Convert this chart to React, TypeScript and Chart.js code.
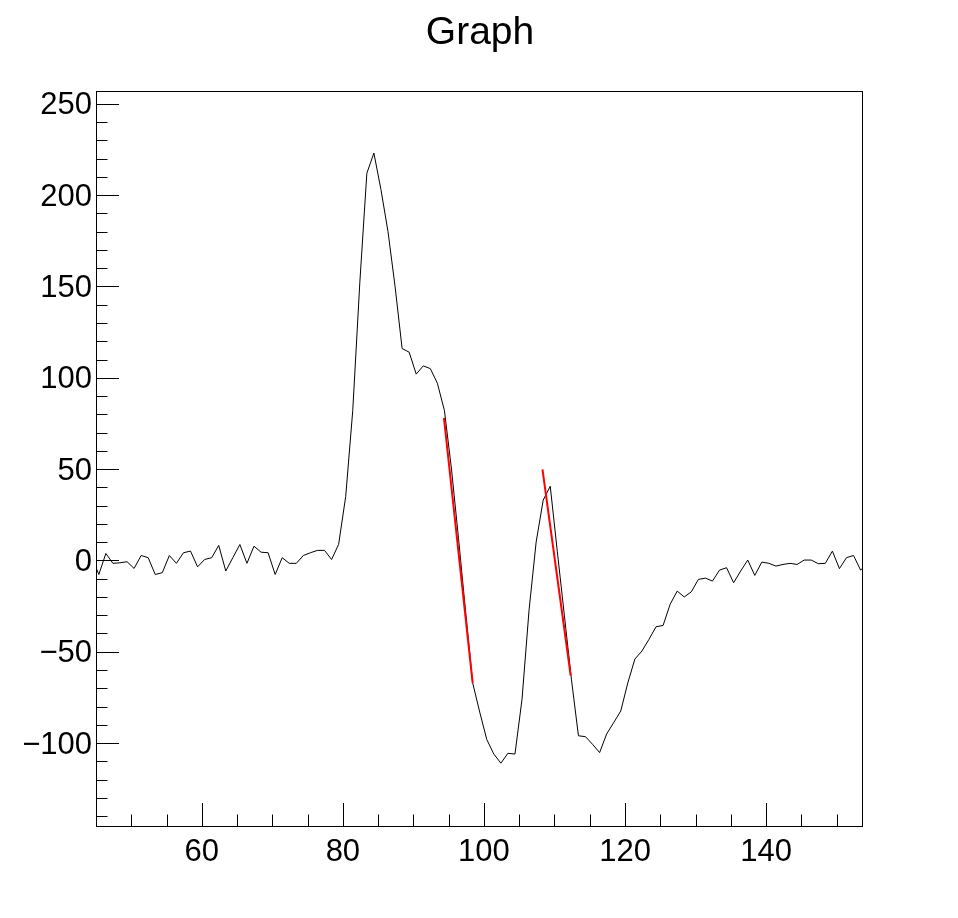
import React, { useEffect, useRef } from "react";
import { Chart, registerables } from "chart.js";

Chart.register(...registerables);

const xValues = [
  44.4, 45.4, 46.4, 47.4, 48.4, 49.4, 50.4, 51.4, 52.4, 53.4, 54.4, 55.4, 56.4, 57.4, 58.4, 59.4,
  60.4, 61.4, 62.4, 63.4, 64.4, 65.4, 66.4, 67.4, 68.4, 69.4, 70.4, 71.4, 72.4, 73.4, 74.4, 75.4,
  76.4, 77.4, 78.4, 79.4, 80.4, 81.4, 82.4, 83.4, 84.4, 85.4, 86.4, 87.4, 88.4, 89.4, 90.4, 91.4,
  92.4, 93.4, 94.4, 95.4, 96.4, 97.4, 98.4, 99.4, 100.4, 101.4, 102.4, 103.4, 104.4, 105.4, 106.4,
  107.4, 108.4, 109.4, 110.4, 111.4, 112.4, 113.4, 114.4, 115.4, 116.4, 117.4, 118.4, 119.4, 120.4,
  121.4, 122.4, 123.4, 124.4, 125.4, 126.4, 127.4, 128.4, 129.4, 130.4, 131.4, 132.4, 133.4, 134.4,
  135.4, 136.4, 137.4, 138.4, 139.4, 140.4, 141.4, 142.4, 143.4, 144.4, 145.4, 146.4, 147.4, 148.4,
  149.4, 150.4, 151.4, 152.4, 153.4, 154.4,
];

const yValues = [
  2, -7.7, 3.8, -1.6, -1.3, -0.7, -4.4, 2.7, 1.5, -7.7, -6.7, 2.7, -1.6, 4.2, 5.1, -3.5,
  0.5, 1.5, 8.2, -5.8, 1.5, 8.7, -1.6, 7.8, 4.5, 4.2, -7.7, 1.5, -1.6, -1.6, 2.7, 4.2,
  5.5, 5.5, 0.5, 8.8, 35, 82, 152, 212, 223, 203, 180, 150, 116, 114, 102, 106.5,
  105, 97, 82, 50, 12, -28, -67, -83, -98, -106, -111, -105.6, -106, -76, -27,
  10, 33, 40.6, 5, -30, -65, -96, -96.5, -100.7, -105.2, -95, -88.8, -82.4, -67,
  -54, -49.6, -43.2, -36.3, -35.6, -24, -16.8, -20, -17.2, -10.4, -9.7, -11.3, -5.3, -4,
  -12.2, -5.8, 0.2, -8.2, -0.9, -1.6, -3.1, -2.2, -1.6, -2.2, 0.2, 0.2, -1.8, -1.6,
  5.1, -4.5, 1.5, 2.7, -5.3, -2,
];

const fit1X = [94.33, 98.4];
const fit1Y = [78, -67];
const fit2X = [108.3, 112.3];
const fit2Y = [49.8, -63];

const titleText = "Graph";
const xMin = 45;
const xMax = 153.6;
const yMin = -145.4;
const yMax = 257;
const xMajorTicks = [60, 80, 100, 120, 140];
const xMinorStep = 5;
const yMajorTicks = [-100, -50, 0, 50, 100, 150, 200, 250];
const yMinorStep = 10;

const FONT = "'Liberation Sans', Arial, Helvetica, sans-serif";

const framePlugin = {
  id: "rootFrame",
  afterDraw(chart: any) {
    const { ctx, chartArea, scales } = chart;
    const { left, right, top, bottom } = chartArea;
    const xs = scales.x;
    const ys = scales.y;
    ctx.save();
    ctx.strokeStyle = "#000";
    ctx.lineWidth = 1;
    ctx.beginPath();
    const xStart = Math.ceil(xMin / xMinorStep) * xMinorStep;
    for (let v = xStart; v <= xMax; v += xMinorStep) {
      const px = Math.round(xs.getPixelForValue(v)) + 0.5;
      const len = v % 20 === 0 ? 23 : 11.5;
      ctx.moveTo(px, bottom);
      ctx.lineTo(px, bottom - len);
    }
    const yStart = Math.ceil(yMin / yMinorStep) * yMinorStep;
    for (let v = yStart; v <= yMax; v += yMinorStep) {
      const py = Math.round(ys.getPixelForValue(v)) + 0.5;
      const len = v % 50 === 0 ? 23 : 11.5;
      ctx.moveTo(left, py);
      ctx.lineTo(left + len, py);
    }
    ctx.stroke();
    ctx.strokeRect(Math.round(left) + 0.5, Math.round(top) + 0.5, Math.round(right - left), Math.round(bottom - top));
    ctx.fillStyle = "#000";
    ctx.font = "39px " + FONT;
    ctx.textAlign = "center";
    ctx.textBaseline = "alphabetic";
    ctx.fillText(titleText, chart.width / 2 + 1, 44);
    ctx.restore();
  },
};

export default function App() {
  const ref = useRef<HTMLCanvasElement | null>(null);

  useEffect(() => {
    if (!ref.current) return;
    const mainData = xValues.map((x, i) => ({ x, y: yValues[i] }));
    const f1 = fit1X.map((x, i) => ({ x, y: fit1Y[i] }));
    const f2 = fit2X.map((x, i) => ({ x, y: fit2Y[i] }));
    const chart = new Chart(ref.current, {
      type: "line",
      data: {
        datasets: [
          { data: f1, borderColor: "#ff0000", borderWidth: 2, pointRadius: 0, tension: 0, fill: false },
          { data: f2, borderColor: "#ff0000", borderWidth: 2, pointRadius: 0, tension: 0, fill: false },
          { data: mainData, borderColor: "#000000", borderWidth: 1, pointRadius: 0, tension: 0, fill: false },
        ],
      },
      options: {
        responsive: false,
        animation: false,
        events: [],
        layout: { padding: { left: 0, right: 96, top: 91, bottom: 0 } },
        plugins: {
          legend: { display: false },
          tooltip: { enabled: false },
          title: { display: false },
        },
        scales: {
          x: {
            type: "linear",
            min: xMin,
            max: xMax,
            grid: { display: false, drawTicks: false },
            border: { display: false },
            afterBuildTicks: (s: any) => {
              s.ticks = xMajorTicks.map((v) => ({ value: v }));
            },
            afterFit: (s: any) => {
              s.height = 92;
            },
            ticks: {
              color: "#000",
              padding: 8,
              maxRotation: 0,
              autoSkip: false,
              font: { family: FONT, size: 31 },
              callback: (v: any) => String(v),
            },
          },
          y: {
            type: "linear",
            min: yMin,
            max: yMax,
            grid: { display: false, drawTicks: false },
            border: { display: false },
            afterBuildTicks: (s: any) => {
              s.ticks = yMajorTicks.map((v) => ({ value: v }));
            },
            afterFit: (s: any) => {
              s.width = 96;
            },
            ticks: {
              color: "#000",
              padding: 4,
              labelOffset: 2,
              autoSkip: false,
              font: { family: FONT, size: 31 },
              callback: (v: any) => (v < 0 ? "\u2212" + String(-v) : String(v)),
            },
          },
        },
      },
      plugins: [framePlugin],
    });
    return () => chart.destroy();
  }, []);

  return (
    <div style={{ position: "fixed", left: 0, top: 0, width: 958, height: 918, background: "#fff" }}>
      <canvas ref={ref} width={958} height={918} style={{ display: "block", width: 958, height: 918 }} />
    </div>
  );
}
